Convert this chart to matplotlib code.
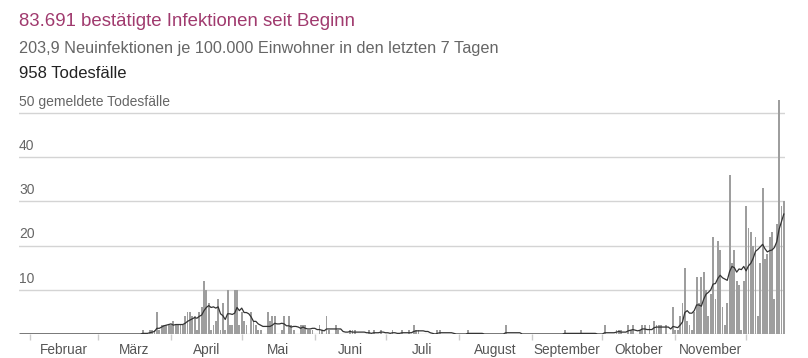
import numpy as np
import pandas as pd
import matplotlib
matplotlib.use("Agg")
import matplotlib.pyplot as plt
import matplotlib.dates as mdates

# daily reported deaths, 28 Jan 2020 .. 17 Dec 2020
jan = [0, 0, 0, 0]
feb = [0, 0, 0, 0, 0, 0, 0, 0, 0, 0, 0, 0, 0, 0, 0, 0, 0, 0, 0, 0,
       0, 0, 0, 0, 0, 0, 0, 0, 0]
mar = [0, 0, 0, 0, 0, 0, 0, 0, 0, 0, 0, 0, 0, 0, 0, 0, 0, 0, 0, 1,
       0, 0, 1, 1, 1, 5, 1, 2, 2, 2, 2]
apr = [2, 3, 2, 2, 2, 2, 4, 5, 5, 4, 4, 1, 5, 6, 12, 10, 7, 1, 2, 3,
       8, 1, 7, 1, 10, 2, 2, 10, 10, 2]
may = [5, 3, 2, 0, 5, 3, 2, 1, 1, 0, 0, 5, 3, 4, 4, 0, 0, 1, 4, 0,
       4, 2, 1, 0, 0, 2, 2, 2, 1, 1, 1]
jun = [0, 0, 2, 1, 0, 4, 1, 0, 0, 2, 1, 0, 0, 0, 0, 1, 1, 1, 0, 0,
       0, 0, 0, 1, 0, 1, 0, 0, 1, 0]
jul = [0, 0, 0, 1, 0, 0, 0, 1, 0, 0, 1, 0, 2, 1, 1, 0, 0, 0, 0, 0,
       0, 0, 1, 1, 0, 0, 0, 0, 0, 0, 0]
aug = [0, 0, 0, 0, 1, 0, 0, 0, 0, 0, 0, 0, 0, 0, 0, 0, 0, 0, 0, 0,
       2, 0, 0, 0, 0, 0, 0, 0, 0, 0, 0]
sep = [0, 0, 0, 0, 0, 0, 0, 0, 0, 0, 0, 0, 0, 0, 1, 0, 0, 0, 0, 0,
       0, 1, 0, 0, 0, 0, 0, 0, 0, 0]
okt = [0, 2, 0, 0, 0, 0, 1, 1, 1, 0, 0, 2, 1, 2, 0, 0, 1, 2, 2, 0,
       2, 0, 3, 2, 2, 2, 0, 2, 0, 0, 6]
nov = [1, 1, 4, 7, 15, 3, 2, 1, 5, 13, 7, 13, 14, 10, 4, 9, 22, 8, 21, 19,
       6, 2, 7, 36, 16, 19, 12, 11, 1, 12]
dez = [29, 24, 23, 20, 22, 4, 16, 33, 17, 18, 22, 23, 8, 25, 53, 29, 30]

month_names = ["Februar", "März", "April", "Mai", "Juni", "Juli", "August",
               "September", "Oktober", "November"]
y_grid = [10, 20, 30, 40, 50]

title1 = "83.691 bestätigte Infektionen seit Beginn"
title2 = "203,9 Neuinfektionen je 100.000 Einwohner in den letzten 7 Tagen"
title3 = "958 Todesfälle"
y_title = "gemeldete Todesfälle"

deaths = jan + feb + mar + apr + may + jun + jul + aug + sep + okt + nov + dez
dates = pd.date_range("2020-01-28", periods=len(deaths), freq="D")
s = pd.Series(deaths, index=dates)
avg7 = s.rolling(7, min_periods=1).mean()

plt.rcParams["font.family"] = ["Liberation Sans", "DejaVu Sans"]

fig = plt.figure(figsize=(8.08, 3.58), dpi=100)
W, H = 808, 358

# axes: x 19..785 px, baseline at y=334, 4.42 px per death
top_px = 334 - 55 * 4.42
ax = fig.add_axes([19 / W, (H - 334) / H, (785 - 19) / W, (334 - top_px) / H])

xd = mdates.date2num(dates)
ax.bar(xd, deaths, width=0.78, color="#9e9e9e", zorder=2)
ax.plot(xd, avg7.values, color="#333333", lw=0.9, zorder=3)

ax.set_xlim(xd[0] - 0.5, xd[-1] + 0.5)
ax.set_ylim(0, 55)

# gridlines + labels above them
for v in y_grid:
    ax.axhline(v, color="#d4d4d4", lw=1, zorder=1)
    lab = f"{v} {y_title}" if v == 50 else f"{v}"
    ax.annotate(lab, xy=(0, v), xycoords=ax.get_yaxis_transform(),
                xytext=(0, 3), textcoords="offset points",
                ha="left", va="bottom", fontsize=10, color="#666666")
ax.axhline(0, color="#cccccc", lw=1, zorder=1)

# month ticks + centred month names
starts = pd.date_range("2020-02-01", "2020-12-01", freq="MS")
ax.set_xticks(mdates.date2num(starts))
ax.set_xticklabels([])
ax.tick_params(axis="x", which="major", length=4, color="#cccccc", width=1)
mids = [mdates.date2num(a) + (b - a).days / 2 for a, b in zip(starts[:-1], starts[1:])]
ax.set_xticks(mids, minor=True)
ax.set_xticklabels(month_names, minor=True)
ax.tick_params(axis="x", which="minor", length=0, pad=6.5, labelsize=9.8,
               labelcolor="#555555")
ax.set_yticks([])
for sp in ax.spines.values():
    sp.set_visible(False)

fig.text(19 / W, 1 - 22 / H, title1, fontsize=13.4, color="#a03a6e", va="center")
fig.text(19 / W, 1 - 49 / H, title2, fontsize=11.7, color="#666666", va="center")
fig.text(19 / W, 1 - 73 / H, title3, fontsize=12, color="#222222", va="center")

fig.savefig("out.png", dpi=100)
